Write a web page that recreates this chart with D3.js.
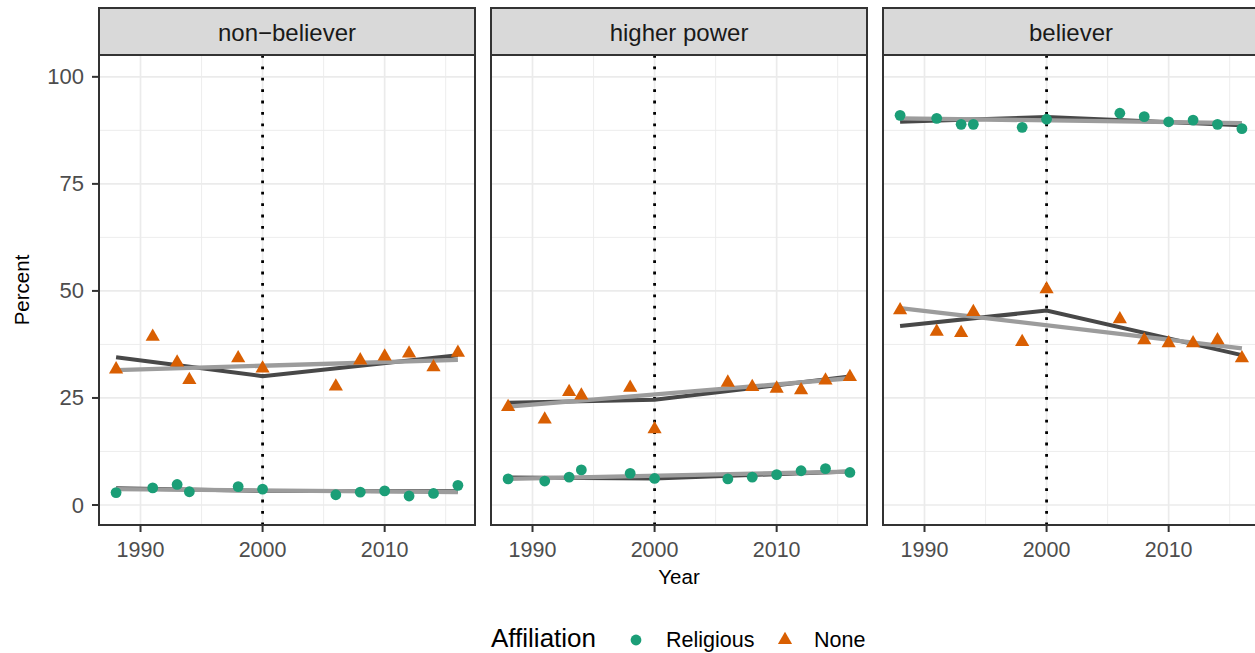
<!DOCTYPE html>
<html>
<head>
<meta charset="utf-8">
<script src="https://cdn.jsdelivr.net/npm/d3@7"></script>
<style>
  body { margin: 0; background: #fff; }
  text { font-family: "Liberation Sans", Arial, sans-serif; }
</style>
</head>
<body>
<svg id="chart" width="1255" height="653"></svg>
<script>
// survey years
const years = [1988, 1991, 1993, 1994, 1998, 2000, 2006, 2008, 2010, 2012, 2014, 2016];
const beliefs = ["non\u2212believer", "higher power", "believer"];

// percent per panel (non-believer, higher power, believer)
const religiousPct = [
  [2.9, 4.0, 4.8, 3.1, 4.3, 3.7, 2.4, 3.0, 3.3, 2.1, 2.7, 4.6],
  [6.1, 5.6, 6.5, 8.2, 7.4, 6.2, 6.1, 6.5, 7.1, 8.0, 8.5, 7.6],
  [91.0, 90.3, 88.9, 88.9, 88.2, 90.1, 91.5, 90.7, 89.5, 89.9, 88.9, 87.9]
];
const nonePct = [
  [31.7, 39.3, 33.3, 29.2, 34.3, 31.9, 27.7, 33.8, 34.7, 35.4, 32.2, 35.6],
  [22.9, 20.0, 26.4, 25.6, 27.4, 17.7, 28.6, 27.6, 27.2, 26.8, 29.1, 29.9],
  [45.5, 40.5, 40.2, 45.1, 38.1, 50.4, 43.4, 38.5, 37.8, 37.8, 38.5, 34.3]
];

// segmented fit (break at 2000)
const segYears = [1988, 2000, 2016];
const segReligious = [[3.9, 3.3, 3.2], [6.4, 6.2, 7.8], [89.5, 90.6, 88.7]];
const segNone = [[34.5, 30.1, 35.0], [23.9, 24.6, 30.0], [41.8, 45.4, 35.0]];

// straight linear fit
const linYears = [1988, 2016];
const linReligious = [[3.7, 3.0], [6.1, 7.8], [90.3, 89.2]];
const linNone = [[31.5, 33.9], [23.0, 29.6], [46.0, 36.6]];

const yTicks = [0, 25, 50, 75, 100];
const yMinor = [12.5, 37.5, 62.5, 87.5];
const xTicks = [1990, 2000, 2010];
const xMinor = [1995, 2005, 2015];
const breakYear = 2000;

const colReligious = "#1B9E77", colNone = "#D95F02";

const svg = d3.select("#chart");
const panelW = 376, panelGap = 16, left0 = 99;
const stripTop = 8, panelTop = 55, panelBottom = 525;

const x = d3.scaleLinear().domain([1986.6, 2017.4]).range([0, panelW]);
const y = d3.scaleLinear().domain([-4.67, 105.1]).range([panelBottom, panelTop]);

const tri = function (h) {
  const w = h / Math.sqrt(3);
  return `M0,${-2 * h / 3}L${w},${h / 3}L${-w},${h / 3}Z`;
};

const line = d3.line().x(d => x(d[0])).y(d => y(d[1]));

beliefs.forEach(function (name, i) {
  const g = svg.append("g").attr("transform", `translate(${left0 + i * (panelW + panelGap)},0)`);

  // clip for panel contents
  const clipId = "clip" + i;
  g.append("clipPath").attr("id", clipId)
    .append("rect").attr("x", 0).attr("y", panelTop).attr("width", panelW).attr("height", panelBottom - panelTop);

  const inner = g.append("g").attr("clip-path", `url(#${clipId})`);

  // grid
  inner.selectAll(".ymin").data(yMinor).join("line")
    .attr("x1", 0).attr("x2", panelW).attr("y1", d => y(d)).attr("y2", d => y(d))
    .attr("stroke", "#ebebeb").attr("stroke-width", 0.9);
  inner.selectAll(".xmin").data(xMinor).join("line")
    .attr("y1", panelTop).attr("y2", panelBottom).attr("x1", d => x(d)).attr("x2", d => x(d))
    .attr("stroke", "#ebebeb").attr("stroke-width", 0.9);
  inner.selectAll(".ymaj").data(yTicks).join("line")
    .attr("x1", 0).attr("x2", panelW).attr("y1", d => y(d)).attr("y2", d => y(d))
    .attr("stroke", "#ebebeb").attr("stroke-width", 1.7);
  inner.selectAll(".xmaj").data(xTicks).join("line")
    .attr("y1", panelTop).attr("y2", panelBottom).attr("x1", d => x(d)).attr("x2", d => x(d))
    .attr("stroke", "#ebebeb").attr("stroke-width", 1.7);

  // dotted line at 2000
  inner.append("line")
    .attr("x1", x(breakYear)).attr("x2", x(breakYear)).attr("y1", panelTop).attr("y2", panelBottom)
    .attr("stroke", "#000").attr("stroke-width", 2.8).attr("stroke-dasharray", "2.8 8.6");

  // fitted lines
  [segReligious[i], segNone[i]].forEach(function (vals) {
    inner.append("path").datum(segYears.map((yr, k) => [yr, vals[k]]))
      .attr("d", line).attr("fill", "none").attr("stroke", "#484848").attr("stroke-width", 4);
  });
  [linReligious[i], linNone[i]].forEach(function (vals) {
    inner.append("path").datum(linYears.map((yr, k) => [yr, vals[k]]))
      .attr("d", line).attr("fill", "none").attr("stroke", "#9c9c9c").attr("stroke-width", 4.3);
  });

  // points
  inner.selectAll(".rel").data(years.map((yr, k) => [yr, religiousPct[i][k]])).join("circle")
    .attr("cx", d => x(d[0])).attr("cy", d => y(d[1])).attr("r", 5.4).attr("fill", colReligious);
  inner.selectAll(".non").data(years.map((yr, k) => [yr, nonePct[i][k]])).join("path")
    .attr("d", tri(12.3)).attr("transform", d => `translate(${x(d[0])},${y(d[1])})`).attr("fill", colNone);

  // panel border
  g.append("rect").attr("x", 0).attr("y", panelTop).attr("width", panelW).attr("height", panelBottom - panelTop)
    .attr("fill", "none").attr("stroke", "#333").attr("stroke-width", 2);

  // strip
  g.append("rect").attr("x", 0).attr("y", stripTop).attr("width", panelW).attr("height", panelTop - stripTop)
    .attr("fill", "#d9d9d9").attr("stroke", "#333").attr("stroke-width", 2);
  g.append("text").attr("x", panelW / 2).attr("y", (stripTop + panelTop) / 2 + 1)
    .attr("text-anchor", "middle").attr("dominant-baseline", "central")
    .attr("font-size", 24).attr("fill", "#1a1a1a").text(name);

  // x axis ticks
  g.selectAll(".xt").data(xTicks).join("line")
    .attr("x1", d => x(d)).attr("x2", d => x(d)).attr("y1", panelBottom).attr("y2", panelBottom + 7)
    .attr("stroke", "#333").attr("stroke-width", 2);
  g.selectAll(".xl").data(xTicks).join("text")
    .attr("x", d => x(d)).attr("y", 557).attr("text-anchor", "middle")
    .attr("font-size", 21.5).attr("fill", "#4d4d4d").text(d => d);

  if (i === 0) {
    g.selectAll(".yt").data(yTicks).join("line")
      .attr("x1", -7).attr("x2", 0).attr("y1", d => y(d)).attr("y2", d => y(d))
      .attr("stroke", "#333").attr("stroke-width", 2);
    g.selectAll(".yl").data(yTicks).join("text")
      .attr("x", -15).attr("y", d => y(d)).attr("text-anchor", "end").attr("dominant-baseline", "central")
      .attr("font-size", 22).attr("fill", "#4d4d4d").text(d => d);
  }
});

// axis titles
svg.append("text").attr("x", left0 + panelW + panelGap + panelW / 2).attr("y", 584)
  .attr("text-anchor", "middle").attr("font-size", 20.5).attr("fill", "#000").text("Year");
svg.append("text").attr("transform", `translate(29,${(panelTop + panelBottom) / 2}) rotate(-90)`)
  .attr("text-anchor", "middle").attr("font-size", 20.5).attr("fill", "#000").text("Percent");

// legend
const legend = svg.append("g");
legend.append("text").attr("x", 491).attr("y", 647).attr("font-size", 26).attr("fill", "#000").text("Affiliation");
legend.append("circle").attr("cx", 636).attr("cy", 640).attr("r", 5.4).attr("fill", colReligious);
legend.append("text").attr("x", 666).attr("y", 647).attr("font-size", 21.5).attr("fill", "#000").text("Religious");
legend.append("path").attr("d", tri(12.3)).attr("transform", "translate(785,640)").attr("fill", colNone);
legend.append("text").attr("x", 814).attr("y", 647).attr("font-size", 21.5).attr("fill", "#000").text("None");
</script>
</body>
</html>
